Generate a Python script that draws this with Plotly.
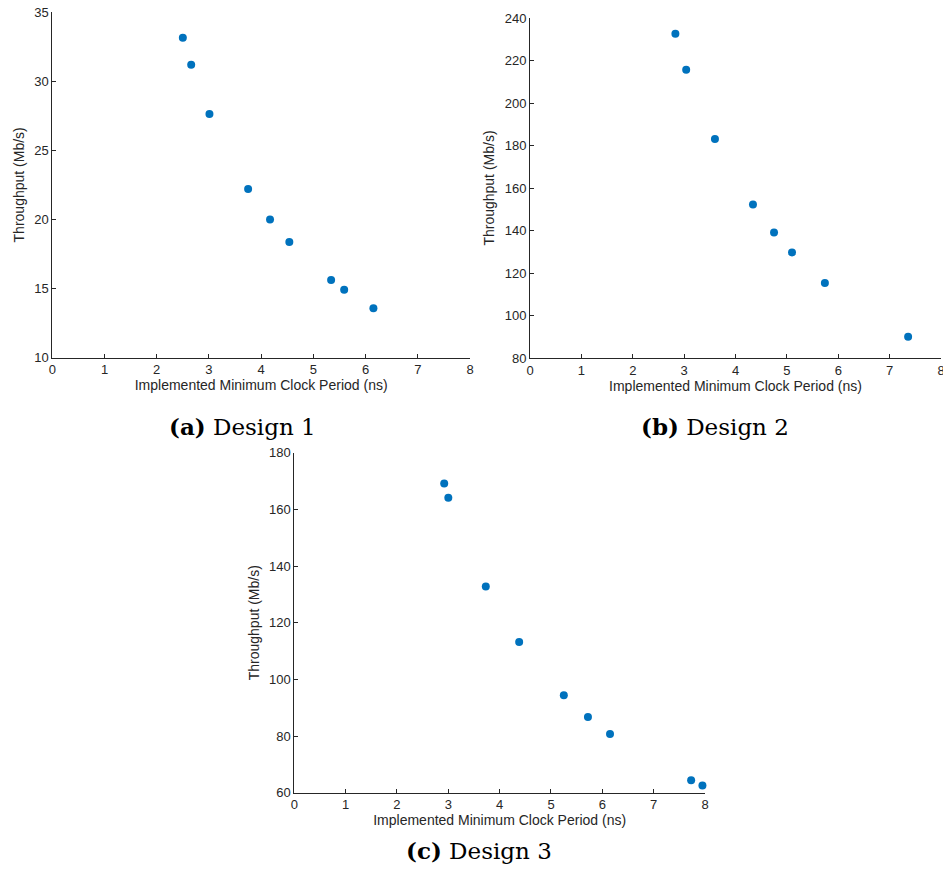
import plotly.graph_objects as go

# Design 1
x1 = [2.50, 2.66, 3.01, 3.75, 4.17, 4.54, 5.34, 5.59, 6.15]
y1 = [33.14, 31.19, 27.62, 22.2, 20.0, 18.37, 15.62, 14.92, 13.57]
# Design 2
x2 = [2.83, 3.04, 3.60, 4.34, 4.75, 5.10, 5.74, 7.36]
y2 = [232.6, 215.7, 183.1, 152.2, 139.1, 129.7, 115.3, 90.0]
# Design 3
x3 = [2.92, 3.00, 3.73, 4.38, 5.25, 5.72, 6.15, 7.73, 7.95]
y3 = [169.1, 164.1, 132.8, 113.2, 94.4, 86.7, 80.7, 64.4, 62.5]

xticks = [0, 1, 2, 3, 4, 5, 6, 7, 8]
yticks1 = [10, 15, 20, 25, 30, 35]
yticks2 = [80, 100, 120, 140, 160, 180, 200, 220, 240]
yticks3 = [60, 80, 100, 120, 140, 160, 180]

xlabel = "Implemented Minimum Clock Period (ns)"
ylabel = "Throughput (Mb/s)"
captions = [("(a)", "Design 1"), ("(b)", "Design 2"), ("(c)", "Design 3")]

W, H = 943, 878
OFF = 0  # page body margin removed in post_script
BLUE = "#0072BD"
AX = "#262626"
FONT = "Liberation Sans"

fig = go.Figure()
data = [(x1, y1), (x2, y2), (x3, y3)]
for i, (xs, ys) in enumerate(data):
    sfx = "" if i == 0 else str(i + 1)
    fig.add_trace(go.Scatter(x=xs, y=ys, mode="markers",
                             marker=dict(color=BLUE, size=8, line=dict(width=0)),
                             xaxis="x" + sfx, yaxis="y" + sfx, showlegend=False,
                             cliponaxis=False))

def px_x(a, b):
    return [(a - OFF) / W, (b - OFF) / W]

def px_y(top, bottom):
    return [1 - (bottom - OFF) / H, 1 - (top - OFF) / H]

domains = [
    (px_x(52.3, 470.0), px_y(12.0, 357.7), [0, 8], [10, 35], yticks1),
    (px_x(530.0, 941.0), px_y(18.0, 358.0), [0, 8], [80, 240], yticks2),
    (px_x(294.3, 705.0), px_y(452.7, 792.7), [0, 8], [60, 180], yticks3),
]

common_axis = dict(showline=True, linecolor=AX, linewidth=1, ticks="inside",
                   ticklen=4, tickcolor=AX, tickwidth=1, showgrid=False,
                   zeroline=False, mirror=False, automargin=False,
                   ticklabeloverflow="allow",
                   tickfont=dict(family=FONT, size=13, color=AX))

layout = {}
for i, (dx, dy, xr, yr, yt) in enumerate(domains):
    sfx = "" if i == 0 else str(i + 1)
    layout["xaxis" + sfx] = dict(common_axis, domain=dx, range=xr,
                                 tickvals=xticks, anchor="y" + sfx,
                                 title=dict(text=xlabel, standoff=3,
                                            font=dict(family=FONT, size=14, color=AX)))
    layout["yaxis" + sfx] = dict(common_axis, domain=dy, range=yr,
                                 tickvals=yt, anchor="x" + sfx,
                                 title=dict(text=ylabel, standoff=6,
                                            font=dict(family=FONT, size=14, color=AX)))

cap_pos = [(243, 426), (715, 426), (479, 850)]
annotations = []
for (lab, txt), (cx, cy) in zip(captions, cap_pos):
    annotations.append(dict(
        text="<b>" + lab + "</b> " + txt,
        x=(cx - OFF) / W, y=1 - (cy - OFF) / H, xref="paper", yref="paper",
        showarrow=False, xanchor="center", yanchor="middle",
        font=dict(family="DejaVu Serif", size=23, color="black")))

fig.update_layout(width=W, height=H, margin=dict(l=0, r=0, t=0, b=0),
                  paper_bgcolor="white", plot_bgcolor="white",
                  annotations=annotations, **layout)

fig.write_html("out.html", config={"displayModeBar": False},
               post_script="document.body.style.margin='0px';document.body.style.overflow='hidden';")
